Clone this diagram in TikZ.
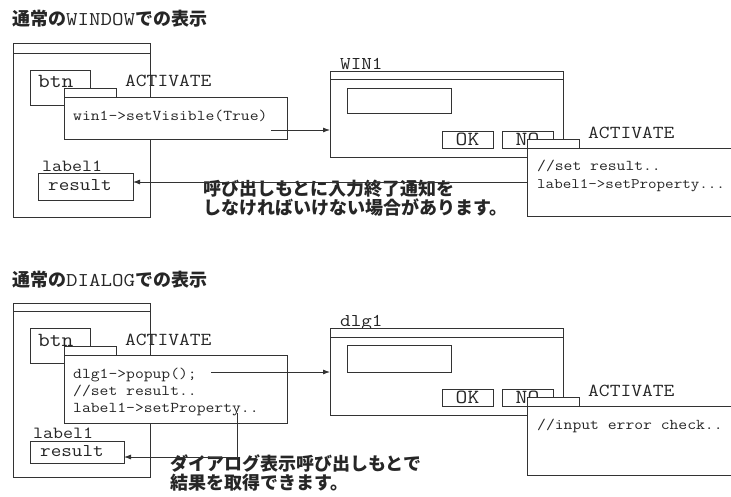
\documentclass[tikz,border=0pt]{standalone}
\usepackage{graphicx}
\usepackage{fontspec}
\newfontfamily\jp{Noto Sans CJK JP}
\usetikzlibrary{arrows.meta,calc}
\definecolor{lc}{gray}{0.2}
\definecolor{tc}{gray}{0.15}
\tikzset{
  box/.style={draw=lc, line width=0.9pt, fill=white, inner sep=0pt, outer sep=0pt, anchor=north west},
  mono/.style={text=tc, inner sep=0pt, anchor=base west},
  jtext/.style={font=\jp\bfseries\fontsize{18}{17}\selectfont, text=tc, inner sep=0pt, anchor=base west, align=left},
  arr/.style={draw=lc, line width=0.8pt, -{Latex[length=7pt,width=5pt]}},
  bar/.style={draw=lc, line width=0.9pt},
}
\newcommand\cw[2]{\scalebox{1.143}[1]{\fontsize{#1}{#1}\selectfont\ttfamily #2}}
\newcommand\jtitle[1]{{\jp\bfseries\fontsize{18}{18}\selectfont #1}}
\begin{document}
\begin{tikzpicture}[x=1pt,y=-1pt]
\useasboundingbox[fill=white] (0,0) rectangle (731,496);

% ===== top section =====
\node[inner sep=0pt, anchor=base west, text=tc] (t1) at (12,25) {\jtitle{通常の}\cw{19.5}{WINDOW}\jtitle{での表示}};

\node[box, minimum width=137pt, minimum height=174pt] (winL) at (13,43) {};
\draw[bar] ([yshift=-10pt]winL.north west) -- ([yshift=-10pt]winL.north east);
\node[box, minimum width=60pt, minimum height=35pt] (btn1) at (30,70) {};
\node[mono] (btn1t) at (38,87) {\cw{20}{btn}};
\node[mono] (act1) at (125,86) {\cw{18.3}{ACTIVATE}};
\node[box, minimum width=52pt, minimum height=9pt] (tab1) at (64,88) {};
\node[box, minimum width=223pt, minimum height=42pt] (code1) at (64,97) {};
\node[mono] (code1t) at (73,120) {\cw{15}{win1->setVisible(True)}};

\node[mono] (lab1) at (42,171) {\cw{17}{label1}};
\node[box, minimum width=95pt, minimum height=27pt] (res1) at (38,173) {};
\node[mono] (res1t) at (48,190) {\cw{18}{result}};

\node[mono] (w1lab) at (340,69) {\cw{18}{WIN1}};
\node[box, minimum width=233pt, minimum height=86pt] (win1) at (330,71) {};
\draw[bar] ([yshift=-8pt]win1.north west) -- ([yshift=-8pt]win1.north east);
\node[box, minimum width=104pt, minimum height=25pt] (in1) at (347,88) {};
\node[box, minimum width=51pt, minimum height=17pt, text=tc] (ok1) at (442,131) {\cw{20}{OK}};
\node[box, minimum width=51pt, minimum height=17pt, text=tc] (no1) at (502,131) {\cw{20}{NO}};
\node[mono] (act2) at (588,138) {\cw{18.3}{ACTIVATE}};
\node[box, minimum width=52pt, minimum height=9pt] (tab2) at (527,139) {};
\node[box, minimum width=215pt, minimum height=68pt] (code2) at (527,148) {};
\node[mono] (code2a) at (537,170) {\cw{15}{//set result..}};
\node[mono] (code2b) at (537,188) {\cw{14.5}{label1->setProperty...}};

\node[jtext] (note1) at (203,214) {呼び出しもとに入力終了通知を\\しなければいけない場合があります。};

\coordinate (a1) at (271,130);
\draw[arr] (a1) -- (a1 -| win1.west);
\coordinate (a2) at ($(code2.north west)+(0,34)$);
\draw[arr] (a2) -- (a2 -| res1.east);

% ===== bottom section =====
\node[inner sep=0pt, anchor=base west, text=tc] (t2) at (12,286) {\jtitle{通常の}\cw{19.5}{DIALOG}\jtitle{での表示}};

\node[box, minimum width=137pt, minimum height=174pt] (winL2) at (13,303) {};
\draw[bar] ([yshift=-8pt]winL2.north west) -- ([yshift=-8pt]winL2.north east);
\node[box, minimum width=60pt, minimum height=35pt] (btn2) at (30,328) {};
\node[mono] (btn2t) at (38,346) {\cw{20}{btn}};
\node[mono] (act3) at (125,345) {\cw{18.3}{ACTIVATE}};
\node[box, minimum width=52pt, minimum height=9pt] (tab3) at (64,346) {};
\node[box, minimum width=223pt, minimum height=68pt] (code3) at (64,355) {};
\node[mono] (code3a) at (73,378) {\cw{15}{dlg1->popup();}};
\node[mono] (code3b) at (73,395) {\cw{15}{//set result..}};
\node[mono] (code3c) at (73,412) {\cw{15}{label1->setProperty..}};

\node[mono] (lab2) at (33,438) {\cw{17}{label1}};
\node[box, minimum width=94pt, minimum height=22pt] (res2) at (30,441) {};
\node[mono] (res2t) at (40,456) {\cw{18}{result}};

\node[mono] (d1lab) at (340,326) {\cw{18}{dlg1}};
\node[box, minimum width=233pt, minimum height=87pt] (dlg) at (330,328) {};
\draw[bar] ([yshift=-9pt]dlg.north west) -- ([yshift=-9pt]dlg.north east);
\node[box, minimum width=104pt, minimum height=27pt] (in2) at (347,345) {};
\node[box, minimum width=51pt, minimum height=17pt, text=tc] (ok2) at (442,389) {\cw{20}{OK}};
\node[box, minimum width=51pt, minimum height=17pt, text=tc] (no2) at (502,389) {\cw{20}{NO}};
\node[mono] (act4) at (588,396) {\cw{18.3}{ACTIVATE}};
\node[box, minimum width=52pt, minimum height=9pt] (tab4) at (527,397) {};
\node[box, minimum width=215pt, minimum height=69pt] (code4) at (527,406) {};
\node[mono] (code4a) at (537,429) {\cw{15}{//input error check..}};

\node[jtext] (note2) at (170,489) {ダイアログ表示呼び出しもとで\\結果を取得できます。};

\coordinate (b1) at (211,372);
\draw[arr] (b1) -- (b1 -| dlg.west);
\coordinate (b2) at (237,413);
\draw[arr] (b2) |- ([yshift=6pt]res2.south east);
\end{tikzpicture}
\end{document}
